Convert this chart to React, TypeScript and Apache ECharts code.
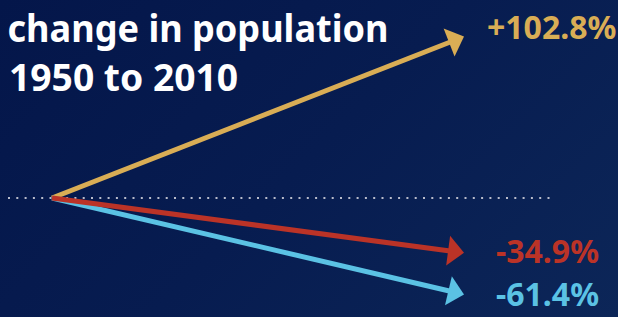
import { useEffect, useRef } from "react";
import * as echarts from "echarts";

// ---- data ----
const years = [1950, 2010];
const changeValues = [102.8, -61.4, -34.9]; // draw order: gold, cyan, red (red on top)
const changeLabels = ["+102.8%", "-61.4%", "-34.9%"];
const titleLines = ["change in population", "1950 to 2010"];

// ---- styles ----
const arrowColors = ["#d9ad55", "#5bc2e4", "#bb3327"];
const labelOffsets = [
  [23, -10],
  [32, -1],
  [32, -2],
];
const HEAD_LEN = 16;
const HEAD_W = 30;
const FONT = '"Noto Sans", "DejaVu Sans", sans-serif';

export default function App() {
  const ref = useRef<HTMLDivElement>(null);
  useEffect(() => {
    const chart = echarts.init(ref.current!, null, { renderer: "svg" });
    chart.setOption({
      animation: false,
      backgroundColor: "transparent",
      grid: { left: 52, right: 154, top: 25.3, bottom: 9.1 },
      xAxis: { type: "value", min: years[0], max: years[1], show: false },
      yAxis: { type: "value", min: -70, max: 110, show: false },
      graphic: [
        {
          type: "line",
          shape: { x1: 8, y1: 198, x2: 554, y2: 198 },
          style: { stroke: "#b9bccb", lineWidth: 2, lineDash: [2, 6.3] },
          z: 1,
        },
        {
          type: "text",
          x: 7.5,
          y: 27,
          scaleX: 0.95,
          style: {
            text: titleLines[0],
            fill: "#ffffff",
            fontSize: 38,
            lineHeight: 38,
            fontWeight: "bold",
            fontFamily: FONT,
            align: "left",
            verticalAlign: "middle",
          },
        },
        {
          type: "text",
          x: 9,
          y: 76,
          scaleX: 0.98,
          style: {
            text: titleLines[1],
            fill: "#ffffff",
            fontSize: 38,
            lineHeight: 38,
            fontWeight: "bold",
            fontFamily: FONT,
            align: "left",
            verticalAlign: "middle",
          },
        },
      ],
      series: [
        {
          type: "custom",
          clip: false,
          z: 5,
          encode: { x: [0, 2], y: [1, 3] },
          data: changeValues.map((v, i) => ({
            value: [years[0], 0, years[1], v],
            itemStyle: { color: arrowColors[i] },
          })),
          renderItem: (params: any, api: any) => {
            const p0 = api.coord([api.value(0), api.value(1)]);
            const p1 = api.coord([api.value(2), api.value(3)]);
            const dx = p1[0] - p0[0];
            const dy = p1[1] - p0[1];
            const len = Math.hypot(dx, dy);
            const ux = dx / len;
            const uy = dy / len;
            const nx = -uy;
            const ny = ux;
            const bx = p1[0] - ux * HEAD_LEN;
            const by = p1[1] - uy * HEAD_LEN;
            const color = api.visual("color");
            const i = params.dataIndex;
            const off = labelOffsets[i];
            return {
              type: "group",
              children: [
                {
                  type: "line",
                  shape: { x1: p0[0], y1: p0[1], x2: bx + ux * 2, y2: by + uy * 2 },
                  style: { stroke: color, lineWidth: 5 },
                },
                {
                  type: "polygon",
                  shape: {
                    points: [
                      [p1[0], p1[1]],
                      [bx + (nx * HEAD_W) / 2, by + (ny * HEAD_W) / 2],
                      [bx - (nx * HEAD_W) / 2, by - (ny * HEAD_W) / 2],
                    ],
                  },
                  style: { fill: color },
                },
                {
                  type: "text",
                  x: p1[0] + off[0],
                  y: p1[1] + off[1],
                  style: {
                    text: changeLabels[i],
                    fill: color,
                    fontSize: 32,
                    lineHeight: 32,
                    fontWeight: "bold",
                    fontFamily: FONT,
                    align: "left",
                    verticalAlign: "middle",
                  },
                },
              ],
            };
          },
        },
      ],
    });
    return () => chart.dispose();
  }, []);
  return (
    <div
      ref={ref}
      style={{
        position: "absolute",
        left: 0,
        top: 0,
        width: 618,
        height: 317,
        background: "linear-gradient(135deg, #04164a 0%, #071c50 50%, #0c2658 100%)",
      }}
    />
  );
}
